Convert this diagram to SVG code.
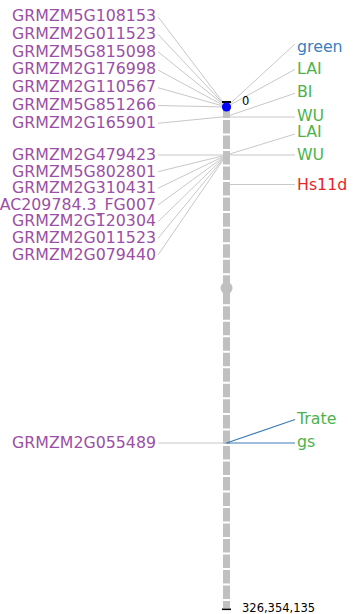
<svg xmlns="http://www.w3.org/2000/svg" width="353" height="614" viewBox="0 0 353 614">
<style>
text{font-family:"DejaVu Sans",sans-serif;font-size:15.8px}
.l{fill:#9b4fa6;text-anchor:end}
.g{fill:#4cb34c}
.b{fill:#3a7fc0}
.r{fill:#e8262a}
.k{fill:#000;font-size:11.5px}
.c{stroke:#c8c8c8;stroke-width:1;fill:none}
.s{stroke:#3d7cb8;stroke-width:1.2;fill:none}
</style>
<rect width="353" height="614" fill="#fff"/>
<g id="connectors">
<line class="c" x1="158" y1="16.7" x2="226.5" y2="107"/>
<line class="c" x1="158" y1="34.3" x2="226.5" y2="107"/>
<line class="c" x1="158" y1="51.7" x2="226.5" y2="107"/>
<line class="c" x1="158" y1="70" x2="226.5" y2="107"/>
<line class="c" x1="158" y1="87.7" x2="226.5" y2="107"/>
<line class="c" x1="158" y1="105.5" x2="226.5" y2="107"/>
<line class="c" x1="158" y1="123.3" x2="226.5" y2="116.5"/>
<line class="c" x1="158" y1="155" x2="226.5" y2="155"/>
<line class="c" x1="158" y1="171.7" x2="226.5" y2="155"/>
<line class="c" x1="158" y1="188.3" x2="226.5" y2="155"/>
<line class="c" x1="158" y1="205" x2="226.5" y2="155"/>
<line class="c" x1="158" y1="221.7" x2="226.5" y2="155"/>
<line class="c" x1="158" y1="238.3" x2="226.5" y2="155"/>
<line class="c" x1="158" y1="255" x2="226.5" y2="155"/>
<line class="c" x1="158" y1="443" x2="226.5" y2="443"/>
<line class="c" x1="226.5" y1="107" x2="295" y2="44"/>
<line class="c" x1="226.5" y1="107" x2="295" y2="69.3"/>
<line class="c" x1="226.5" y1="116.5" x2="295" y2="93.3"/>
<line class="c" x1="226.5" y1="117" x2="295" y2="117"/>
<line class="c" x1="226.5" y1="155" x2="295" y2="134"/>
<line class="c" x1="226.5" y1="155" x2="295" y2="155"/>
<line class="c" x1="226.5" y1="184.5" x2="295" y2="184.5"/>
</g>
<g id="chromosome">
<line x1="226.5" y1="101" x2="226.5" y2="608" stroke="#c0c0c0" stroke-width="7"/>
<line x1="226.5" y1="118" x2="226.5" y2="608" stroke="#fff" stroke-width="7" stroke-dasharray="2 13.52"/>
<circle cx="226.5" cy="288" r="6" fill="#c0c0c0"/>
<line x1="222" y1="102" x2="231" y2="102" stroke="#000" stroke-width="2"/>
<line x1="222" y1="609.3" x2="231" y2="609.3" stroke="#000" stroke-width="1.6"/>
<circle cx="226.5" cy="107" r="4.6" fill="#0000ff"/>
<text class="k" x="242" y="104.5">0</text>
<text class="k" x="242" y="612.3">326,354,135</text>
</g>
<g id="blue-connectors">
<line class="s" x1="226.5" y1="443" x2="295" y2="419.5"/>
<line class="s" x1="226.5" y1="443" x2="295" y2="443"/>
</g>
<g id="left-labels">
<text class="l" x="156" y="21.3">GRMZM5G108153</text>
<text class="l" x="156" y="39">GRMZM2G011523</text>
<text class="l" x="156" y="56.7">GRMZM5G815098</text>
<text class="l" x="156" y="74.3">GRMZM2G176998</text>
<text class="l" x="156" y="92">GRMZM2G110567</text>
<text class="l" x="156" y="109.7">GRMZM5G851266</text>
<text class="l" x="156" y="127.8">GRMZM2G165901</text>
<text class="l" x="156" y="160">GRMZM2G479423</text>
<text class="l" x="156" y="176.5">GRMZM5G802801</text>
<text class="l" x="156" y="193">GRMZM2G310431</text>
<text class="l" x="156" y="209.5">AC209784.3_FG007</text>
<text class="l" x="156" y="226.3">GRMZM2G120304</text>
<text class="l" x="156" y="243">GRMZM2G011523</text>
<text class="l" x="156" y="259.7">GRMZM2G079440</text>
<text class="l" x="156" y="447.7">GRMZM2G055489</text>
</g>
<g id="right-labels">
<text class="b" x="297" y="52">green</text>
<text class="g" x="297" y="73.5">LAI</text>
<text class="g" x="297" y="96.7">BI</text>
<text class="g" x="297" y="120.7">WU</text>
<text class="g" x="297" y="136.7">LAI</text>
<text class="g" x="297" y="160">WU</text>
<text class="r" x="297" y="190">Hs11d</text>
<text class="g" x="297" y="424">Trate</text>
<text class="g" x="297" y="446.7">gs</text>
</g>
</svg>
